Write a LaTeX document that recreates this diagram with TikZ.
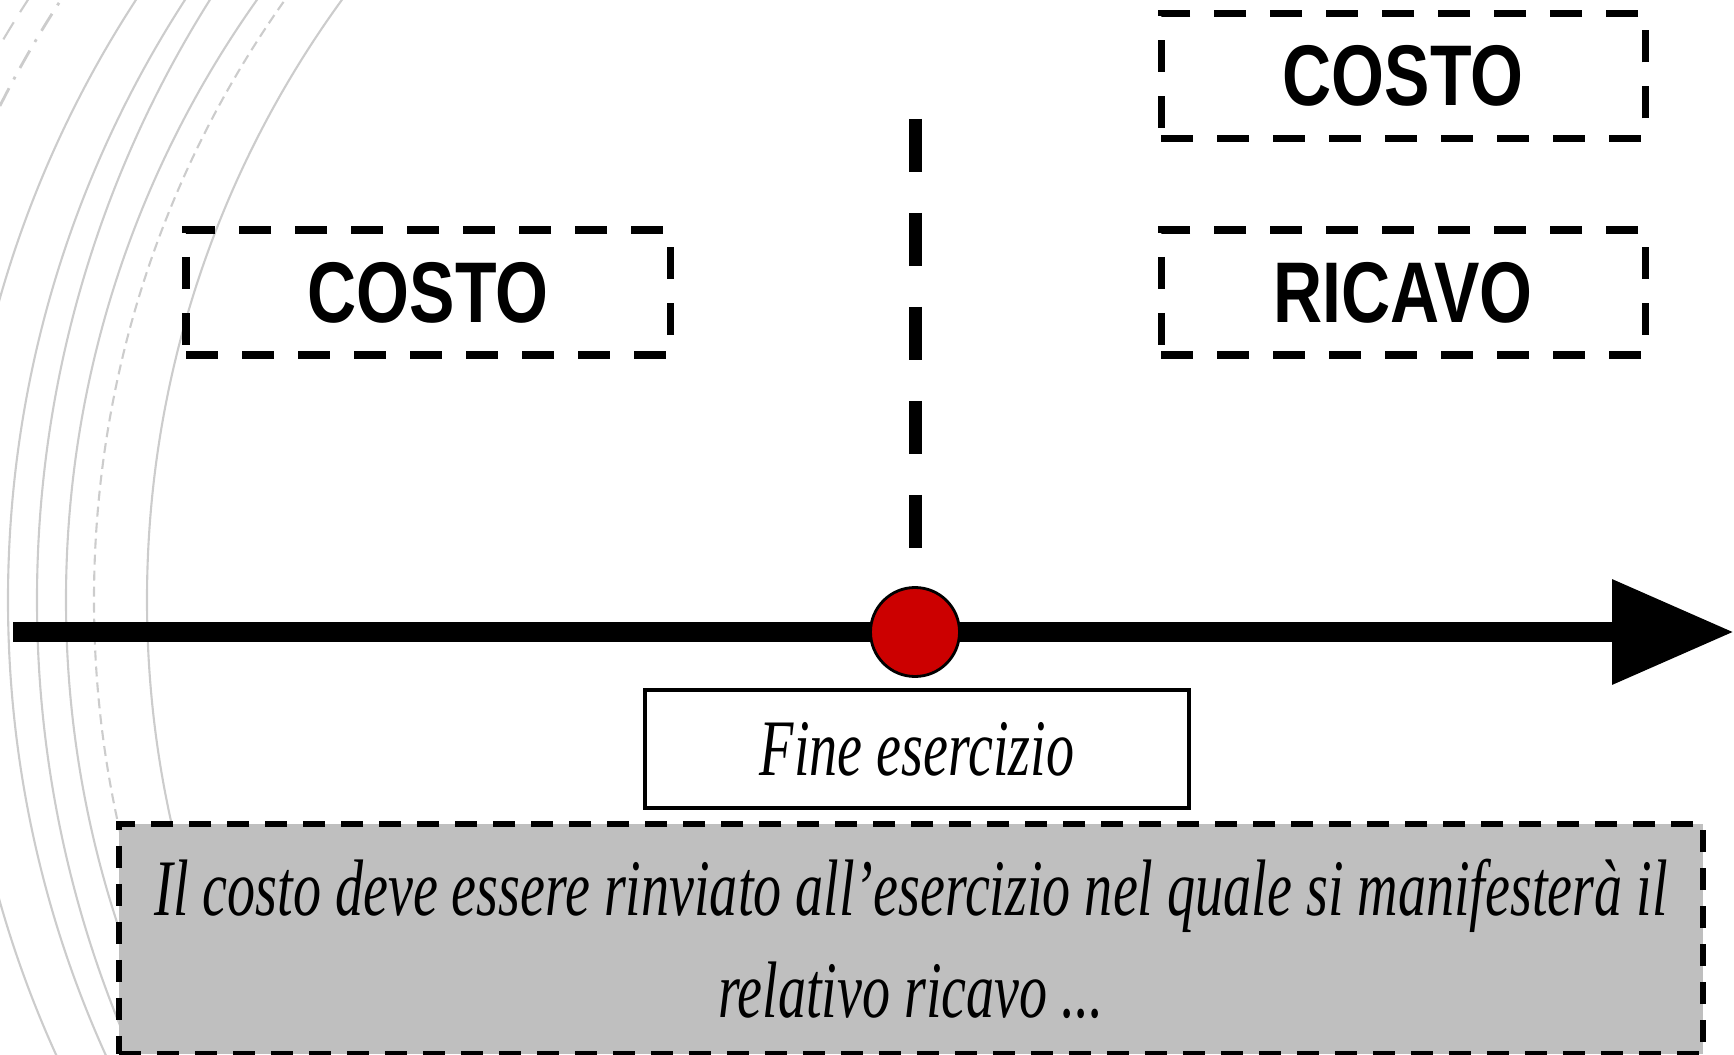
\documentclass[tikz,border=0pt]{standalone}
\usepackage{fontspec}
\usetikzlibrary{arrows.meta}
\newfontfamily\boxfont[FakeStretch=0.79]{Liberation Sans}
\newfontfamily\handfont[FakeStretch=0.7]{Liberation Serif}
\definecolor{arcgray}{HTML}{CCCCCC}
\definecolor{notegray}{HTML}{BFBFBF}
\definecolor{dotred}{HTML}{CC0000}
\tikzset{
	arcsolid/.style={arcgray, line width=0.6pt},
	arcdashed/.style={arcgray, line width=0.6pt, dash pattern=on 1mm off 0.6mm},
	arcdashdot/.style={arcgray, line width=0.8pt, dash pattern=on 2mm off 1mm on 0.3mm off 1mm},
	arclong/.style={arcgray, line width=0.6pt, dash pattern=on 2mm off 1.2mm},
	termbox/.style={draw, line width=2pt, dash pattern=on 3.2mm off 2.4mm, minimum width=48.4mm,
		minimum height=12.5mm, inner sep=0pt, font=\boxfont\bfseries\fontsize{24.5pt}{28pt}\selectfont},
	hand/.style={font=\handfont\itshape\fontsize{22.8pt}{29pt}\selectfont}
}
\begin{document}
\begin{tikzpicture}[x=1mm,y=1mm]
	\useasboundingbox (0,0) rectangle (173.4,105.4);
	\begin{scope}
		\clip (0,0) rectangle (173.4,105.4);
		\foreach \cx/\r/\sty in 
		{116.8/102.1/arcsolid, 113.2/103.8/arcdashed, 110.4/103.8/arcsolid, 116.4/112.7/arcsolid,
		 111.3/110.5/arcsolid, 105.8/110/arcsolid, 98.3/110/arcdashdot, 95/110/arclong}{% arcs
			\draw[\sty] (\cx,45.4) circle [radius=\r mm];
		}
	\end{scope}
	
	\node (costoprima) [termbox] at (42.8,76.15) {COSTO};
	\node (costodopo) [termbox] at (140.3,97.8) {COSTO};
	\node (ricavo) [termbox] at (140.3,76.15) {RICAVO};
	
	\coordinate (inizio) at (1.3,42.2);
	\coordinate (fineasse) at (173.4,42.2);
	\draw [line width=2mm, -{Triangle[length=12.2mm,width=10mm]}] (inizio) -- (fineasse);
	
	\coordinate (cima) at (91.5,93.5);
	\coordinate (piede) at (91.5,42.2);
	\draw [line width=1.3mm, dash pattern=on 5.3mm off 4.1mm] (cima) -- (piede);
	\node (punto) [circle, draw, fill=dotred, line width=0.8pt, minimum size=8.9mm, inner sep=0pt] at (piede) {};
	
	\node (fine) [draw, fill=white, line width=0.9pt, minimum width=54.4mm, minimum height=11.8mm, hand] 
		at (91.7,30.5) {Fine esercizio};
	\node (nota) [draw, fill=notegray, line width=1.7pt, dash pattern=on 2.2mm off 1.6mm, minimum width=158.4mm,
		minimum height=23mm, align=center, hand] at (91.1,11.5)
		{Il costo deve essere rinviato all’esercizio nel quale si manifesterà il\\relativo ricavo ...};
\end{tikzpicture}
\end{document}
